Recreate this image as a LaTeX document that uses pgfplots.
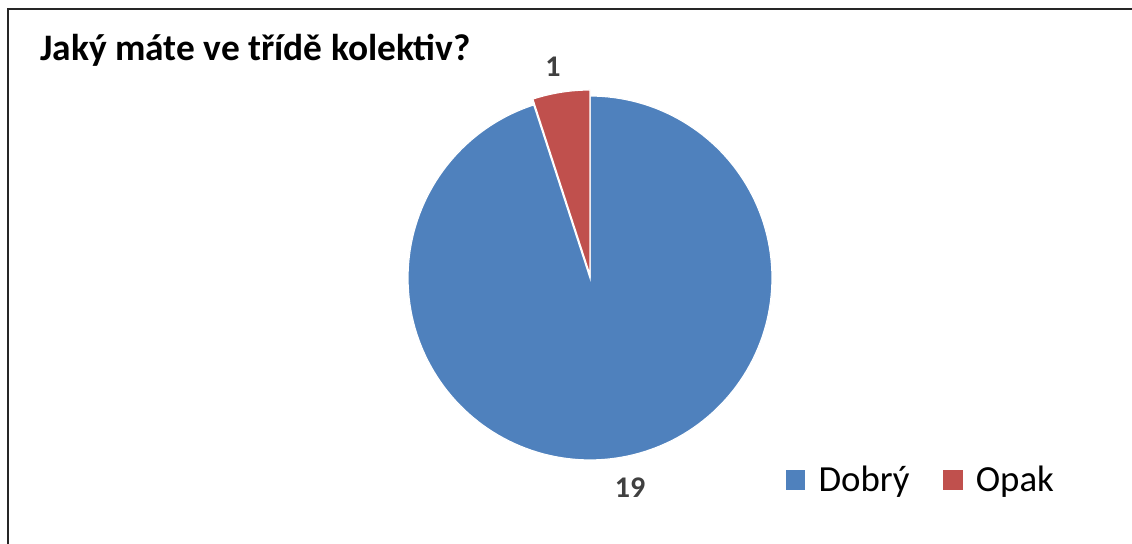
\documentclass[border=0pt]{standalone}
\usepackage{pgfplots}
\usepackage{pgfplotstable}
\pgfplotsset{compat=1.18}
\usepackage{fontspec}
\setmainfont{Carlito}
\definecolor{pieblue}{HTML}{4F81BD}
\definecolor{piered}{HTML}{C0504D}
\definecolor{lblgray}{HTML}{404040}

\pgfplotstableread{
label value
Dobrý 19
Opak 1
}\piedata

\begin{document}%
\begin{tikzpicture}
\pgfplotstablegetelem{0}{value}\of\piedata \pgfmathsetmacro{\va}{\pgfplotsretval}
\pgfplotstablegetelem{1}{value}\of\piedata \pgfmathsetmacro{\vb}{\pgfplotsretval}
\pgfmathsetmacro{\tot}{\va+\vb}
% Opak slice starts at 12 o'clock, runs counter-clockwise
\pgfmathsetmacro{\aOs}{90}
\pgfmathsetmacro{\aOe}{90+360*\vb/\tot}
\pgfmathsetmacro{\aDe}{\aOe+360*\va/\tot}
\begin{axis}[
  at={(0,0)}, anchor=south west,
  width=566pt, height=272pt, scale only axis,
  xmin=0, xmax=1132, ymin=0, ymax=544,
  hide axis, clip=false,
  legend columns=2,
  legend style={draw=none, fill=none, at={(axis cs:778,64)}, anchor=west,
    font=\fontsize{18.4}{20}\selectfont, column sep=4pt,
    /tikz/every even column/.append style={column sep=14pt}},
  legend image code/.code={\fill[#1] (0pt,-5.25pt) rectangle (10.5pt,5.25pt);},
]
% frame
\draw[line width=1pt, black!85] (axis cs:8,-20) -- (axis cs:8,535) -- (axis cs:1150,535);
% slices
\addplot[fill=pieblue, draw=white, line width=0.6pt, domain=\aOe:\aDe, samples=180, variable=\t]
  ({590+182*cos(\t)},{266+182*sin(\t)}) -- (axis cs:590,266) -- cycle;
\addlegendentry{Dobrý}
\addplot[fill=piered, draw=white, line width=0.6pt, domain=\aOs:\aOe, samples=20, variable=\t]
  ({590+185*cos(\t)},{269+185*sin(\t)}) -- (axis cs:590,269) -- cycle;
\addlegendentry{Opak}
% data labels
\node[font=\bfseries\fontsize{15}{17}\selectfont, text=lblgray] at (axis cs:553,477) {1};
\node[font=\bfseries\fontsize{15}{17}\selectfont, text=lblgray] at (axis cs:630,56) {19};
% title
\node[font=\bfseries\fontsize{18.7}{21}\selectfont, anchor=west, inner sep=0pt] at (axis cs:40,494) {Jaký máte ve třídě kolektiv?};
\end{axis}
\pgfresetboundingbox
\path (0,0) rectangle (566pt,272pt);
\end{tikzpicture}%
\end{document}
